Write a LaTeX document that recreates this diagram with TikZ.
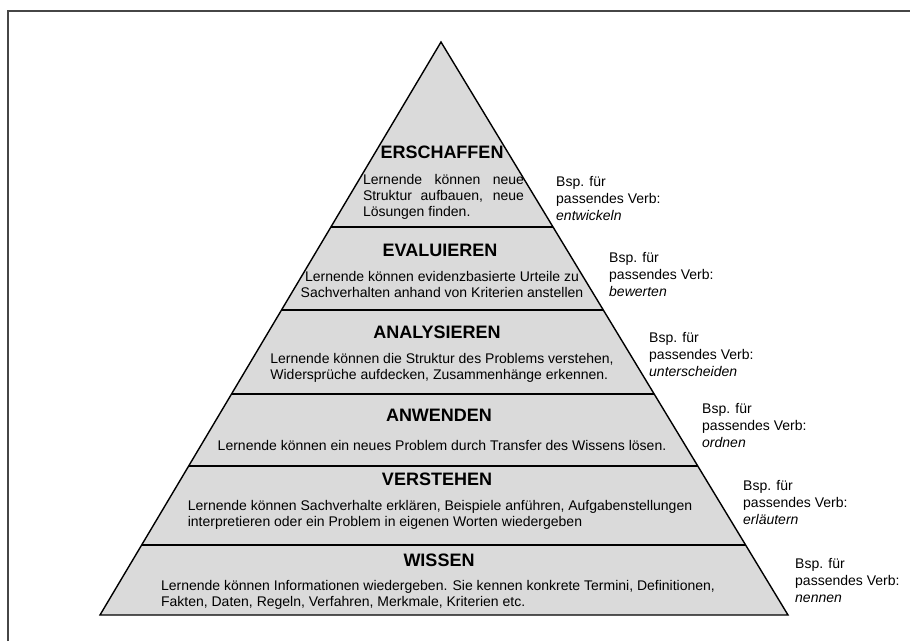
\documentclass[tikz,border=0pt]{standalone}
\usepackage{fontspec}
\setmainfont{Liberation Sans}
\usetikzlibrary{calc}

\definecolor{pyrgray}{RGB}{218,218,218}
\definecolor{framegray}{RGB}{70,70,70}

\tikzset{
	stufe/.style={line width=1.6pt},
	titel/.style={font=\bfseries\fontsize{18}{20}\selectfont, inner sep=0pt},
	beschr/.style={font=\fontsize{14}{16}\selectfont, align=left, inner sep=0pt},
	verbtext/.style={font=\fontsize{14}{17}\selectfont, align=left, anchor=west, inner sep=0pt}
}

\begin{document}
\begin{tikzpicture}[x=1pt,y=-1pt]
	\useasboundingbox (0,0) rectangle (910,641);
	\draw[framegray,line width=2pt] (8,641) -- (8,11) -- (910,11);
	
	\coordinate (top) at (441,42);
	\coordinate (bl) at (100,615);
	\coordinate (br) at (788,615);
	\filldraw[fill=pyrgray,draw=black,line width=1.4pt,line join=miter] (top) -- (br) -- (bl) -- cycle;
	
	\draw[stufe] ($(top)!0.3229!(bl)$) -- ($(top)!0.3229!(br)$);
	\draw[stufe] ($(top)!0.4677!(bl)$) -- ($(top)!0.4677!(br)$);
	\draw[stufe] ($(top)!0.6143!(bl)$) -- ($(top)!0.6143!(br)$);
	\draw[stufe] ($(top)!0.7400!(bl)$) -- ($(top)!0.7400!(br)$);
	\draw[stufe] ($(top)!0.8778!(bl)$) -- ($(top)!0.8778!(br)$);
	
	% Stufen
	\node[titel] (erschaffen) at (442,152) {ERSCHAFFEN};
	\node[beschr,text width=161pt,align=justify] (erschaffentext) at (443.5,197) {Lernende können neue\linebreak Struktur aufbauen, neue\linebreak Lösungen finden.};
	
	\node[titel] (evaluieren) at (440,250) {EVALUIEREN};
	\node[beschr,align=center] (evaluierentext) at (442,284) {Lernende können evidenzbasierte Urteile zu\\Sachverhalten anhand von Kriterien anstellen};
	
	\node[titel] (analysieren) at (437,332) {ANALYSIEREN};
	\node[beschr] (analysierentext) at (442,368) {Lernende können die Struktur des Problems verstehen,\\Widersprüche aufdecken, Zusammenhänge erkennen.};
	
	\node[titel] (anwenden) at (439,415) {ANWENDEN};
	\node[beschr] (anwendentext) at (442,445) {Lernende können ein neues Problem durch Transfer des Wissens lösen.};
	
	\node[titel] (verstehen) at (437,479) {VERSTEHEN};
	\node[beschr] (verstehentext) at (440,515) {Lernende können Sachverhalte erklären, Beispiele anführen, Aufgabenstellungen\\interpretieren oder ein Problem in eigenen Worten wiedergeben};
	
	\node[titel] (wissen) at (439,560) {WISSEN};
	\node[beschr] (wissentext) at (438,595) {Lernende können Informationen wiedergeben. Sie kennen konkrete Termini, Definitionen,\\Fakten, Daten, Regeln, Verfahren, Merkmale, Kriterien etc.};
	
	% Verben
	\node[verbtext] (verb1) at (556,198) {Bsp. für\\passendes Verb:\\\textit{entwickeln}};
	\node[verbtext] (verb2) at (609,274) {Bsp. für\\passendes Verb:\\\textit{bewerten}};
	\node[verbtext] (verb3) at (649,354) {Bsp. für\\passendes Verb:\\\textit{unterscheiden}};
	\node[verbtext] (verb4) at (702,425) {Bsp. für\\passendes Verb:\\\textit{ordnen}};
	\node[verbtext] (verb5) at (743,502) {Bsp. für\\passendes Verb:\\\textit{erläutern}};
	\node[verbtext] (verb6) at (795,580) {Bsp. für\\passendes Verb:\\\textit{nennen}};
\end{tikzpicture}
\end{document}
